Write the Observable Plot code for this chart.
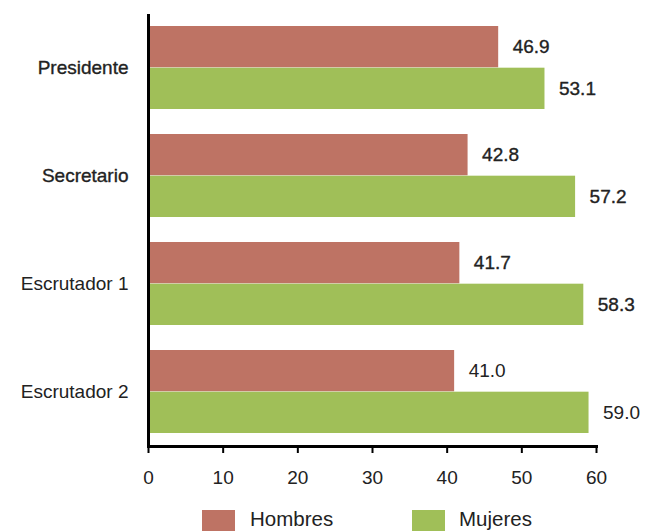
<!DOCTYPE html>
<html><head><meta charset="utf-8">
<script src="https://cdn.jsdelivr.net/npm/d3@7"></script>
<script src="https://cdn.jsdelivr.net/npm/@observablehq/plot@0.6"></script>
<style>
body{margin:0;background:#fff;font-family:"Liberation Sans",Arial,sans-serif;overflow:hidden;width:648px;height:531px;}
#legend{position:relative;height:31px;}
.sw{position:absolute;top:10px;width:33px;height:24px;}
.lb{position:absolute;top:7px;font-size:20.5px;color:#222;line-height:24px;}
</style></head><body><div id="chart"></div><div id="legend"></div>
<script>
const categories = ["Presidente", "Secretario", "Escrutador 1", "Escrutador 2"];
const series = ["Hombres", "Mujeres"];
const hombres = [46.9, 42.8, 41.7, 41.0];
const mujeres = [53.1, 57.2, 58.3, 59.0];
const xTicks = [0, 10, 20, 30, 40, 50, 60];
const colors = ["#BE7364", "#A0BF58"];
const emphasized = ["Presidente", "Secretario", "Escrutador 1"];
const emphasizedLabels = ["Presidente", "Secretario"];

const rows = categories.map((c, i) => ({category: c, Hombres: hombres[i], Mujeres: mujeres[i]}));

const W = 648, H = 500, mt = 14, mb = 54, ml = 148, mr = 52;
const pi = 0.23, po = 0.11;
const step = (H - mt - mb) / (categories.length - pi + 2 * po);
const bw = step * (1 - pi);
const half = bw / 2;

const strong = d => emphasized.includes(d.category);
const fontSize = 19;

const plot = Plot.plot({
  width: W, height: H,
  marginTop: mt, marginBottom: mb, marginLeft: ml, marginRight: mr,
  style: {fontFamily: "'Liberation Sans', Arial, sans-serif", fontSize: "19px", background: "#fff", color: "#222"},
  x: {domain: [0, 60], axis: null},
  y: {domain: categories, paddingInner: pi, paddingOuter: po, axis: null},
  marks: [
    Plot.barX(rows, {x: "Hombres", y: "category", fill: colors[0], insetBottom: half}),
    Plot.barX(rows, {x: "Mujeres", y: "category", fill: colors[1], insetTop: half}),
    Plot.text(rows, {x: "Hombres", y: "category", text: d => d.Hombres.toFixed(1), dx: 14, dy: -half / 2, textAnchor: "start", fontSize, fill: "#222", stroke: d => strong(d) ? "#222" : "none", strokeWidth: 0.35}),
    Plot.text(rows, {x: "Mujeres", y: "category", text: d => d.Mujeres.toFixed(1), dx: 14, dy: half / 2, textAnchor: "start", fontSize, fill: "#222", stroke: d => strong(d) ? "#222" : "none", strokeWidth: 0.35}),
    Plot.text(rows, {x: 0, y: "category", text: "category", dx: -20, textAnchor: "end", fontSize, fill: "#222", stroke: d => emphasizedLabels.includes(d.category) ? "#222" : "none", strokeWidth: 0.35}),
    Plot.ruleX([0], {stroke: "#000", strokeWidth: 3}),
    Plot.frame({anchor: "bottom", stroke: "#000", strokeWidth: 3}),
    Plot.axisX({ticks: xTicks, tickSize: 7, tickPadding: 17, tickFormat: d => String(d), fontSize, stroke: "#000", strokeWidth: 2, strokeOpacity: 1, fill: "#222"})
  ]
});
document.getElementById("chart").appendChild(plot);

const legend = document.getElementById("legend");
const legendPos = [[202, 250], [412, 459]];
series.forEach((s, i) => {
  const sw = document.createElement("div");
  sw.className = "sw"; sw.style.left = legendPos[i][0] + "px"; sw.style.background = colors[i];
  const lb = document.createElement("div");
  lb.className = "lb"; lb.style.left = legendPos[i][1] + "px"; lb.textContent = s;
  legend.appendChild(sw); legend.appendChild(lb);
});
</script></body></html>
